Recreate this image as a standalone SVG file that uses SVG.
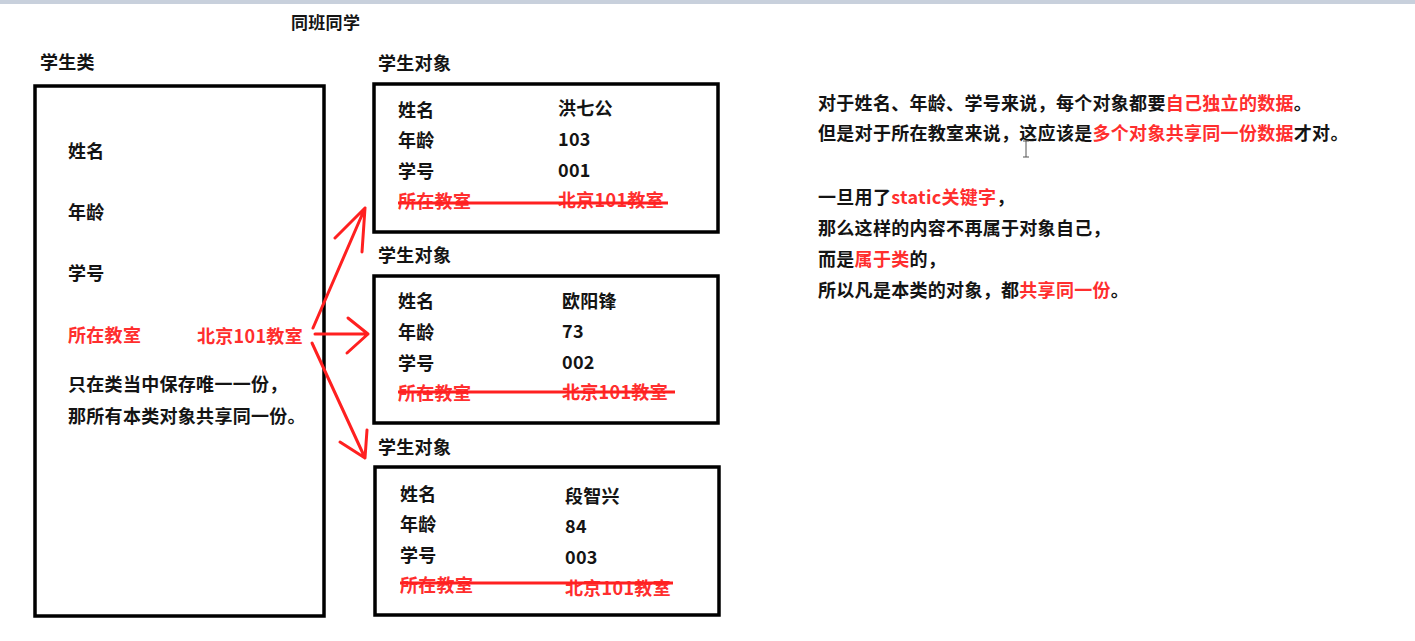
<svg xmlns="http://www.w3.org/2000/svg" width="1415" height="641" viewBox="0 0 1415 641">
<style>
text{font-family:"Noto Sans CJK SC","Noto Sans",sans-serif;font-size:18px;font-weight:bold;fill:#141414;letter-spacing:0.3px}
.r{fill:#ff2e2e}
.box{fill:#fff;stroke:#000;stroke-width:3.5}
.strike{stroke:#ff2020;stroke-width:3;fill:none}
.arrow{stroke:#ff2020;stroke-width:3;fill:none;stroke-linecap:round;stroke-linejoin:round}
</style>
<rect x="0" y="0" width="1415" height="641" fill="#fff"/>
<rect x="0" y="0" width="1415" height="4" fill="#c8d0dc"/>
<text x="291" y="29" style="font-size:17px">同班同学</text>

<g id="class-node">
<text x="40" y="69">学生类</text>
<rect class="box" x="35" y="86" width="289" height="530"/>
<text x="68" y="158">姓名</text>
<text x="68" y="219">年龄</text>
<text x="68" y="280">学号</text>
<text x="68" y="342" class="r">所在教室</text>
<text x="197" y="343" class="r">北京101教室</text>
<text x="68" y="391">只在类当中保存唯一一份，</text>
<text x="68" y="423">那所有本类对象共享同一份。</text>
</g>

<g id="object1">
<text x="378" y="70">学生对象</text>
<rect class="box" x="374" y="84" width="344" height="148"/>
<text x="398" y="117">姓名</text>
<text x="558" y="115">洪七公</text>
<text x="398" y="147">年龄</text>
<text x="558" y="146">103</text>
<text x="398" y="178">学号</text>
<text x="558" y="177">001</text>
<text x="398" y="208" class="r">所在教室</text>
<text x="558" y="207" class="r">北京101教室</text>
<line class="strike" x1="398" y1="203" x2="668" y2="203"/>
</g>

<g id="object2">
<text x="378" y="262">学生对象</text>
<rect class="box" x="374" y="276" width="344" height="147"/>
<text x="398" y="308">姓名</text>
<text x="562" y="308">欧阳锋</text>
<text x="398" y="339">年龄</text>
<text x="562" y="338">73</text>
<text x="398" y="370">学号</text>
<text x="562" y="369">002</text>
<text x="398" y="400" class="r">所在教室</text>
<text x="562" y="399" class="r">北京101教室</text>
<line class="strike" x1="398" y1="392" x2="675" y2="392"/>
</g>

<g id="object3">
<text x="378" y="454">学生对象</text>
<rect class="box" x="375" y="467" width="344" height="148"/>
<text x="400" y="501">姓名</text>
<text x="565" y="503">段智兴</text>
<text x="400" y="531">年龄</text>
<text x="565" y="533">84</text>
<text x="400" y="562">学号</text>
<text x="565" y="564">003</text>
<text x="400" y="592" class="r">所在教室</text>
<text x="565" y="595" class="r">北京101教室</text>
<line class="strike" x1="400" y1="583" x2="673" y2="583"/>
</g>

<g id="connectors">
<path class="arrow" d="M313 328 L365 208 M335 238 L365 208 L362 252"/>
<path class="arrow" d="M315 334 L368 334 M348 318 L368 334 L347 353"/>
<path class="arrow" d="M312 343 L365 458 M340 442 L365 458 L367 430"/>
</g>

<g id="notes">
<text x="818" y="110">对于姓名、年龄、学号来说，每个对象都要<tspan class="r">自己独立的数据</tspan>。</text>
<text x="818" y="140">但是对于所在教室来说，这应该是<tspan class="r">多个对象共享同一份数据</tspan>才对。</text>
<text x="818" y="204">一旦用了<tspan class="r">static关键字</tspan>，</text>
<text x="818" y="235">那么这样的内容不再属于对象自己，</text>
<text x="818" y="266">而是<tspan class="r">属于类</tspan>的，</text>
<text x="818" y="297">所以凡是本类的对象，都<tspan class="r">共享同一份</tspan>。</text>
</g>
<path d="M1026 141 V157 M1023 141 H1029 M1023 157 H1029" stroke="#555" stroke-width="1" fill="none"/>
</svg>
